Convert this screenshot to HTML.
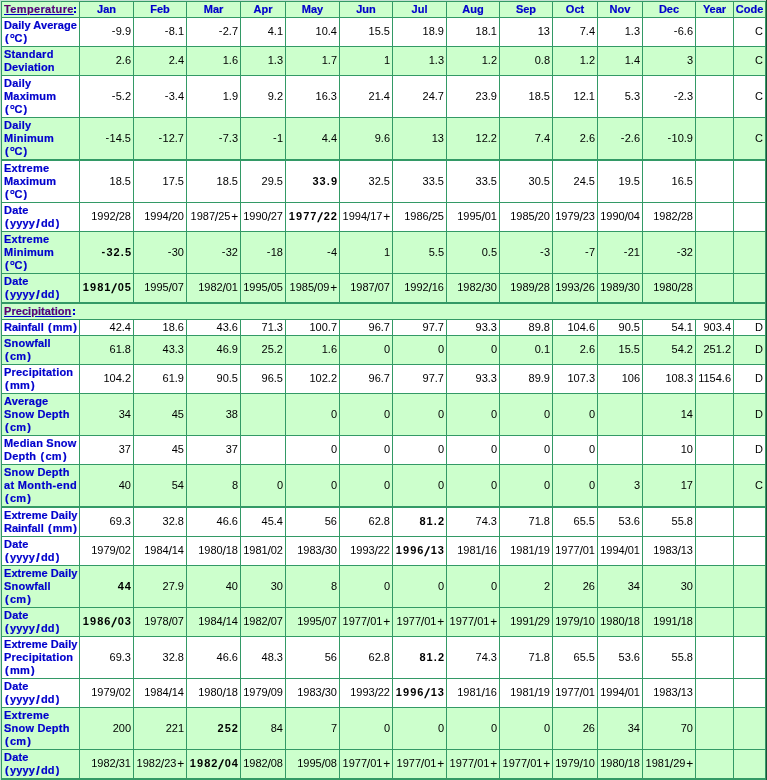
<!DOCTYPE html>
<html><head><meta charset="utf-8"><title>Climate Normals</title><style>
html,body{margin:0;padding:0;background:#fff;}
body{will-change:transform;width:767px;height:780px;overflow:hidden;position:relative;font-family:"Liberation Sans",sans-serif;font-size:11px;line-height:13px;color:#000;}
.a{position:absolute;}
.bg{position:absolute;left:1px;width:765px;}
.hl{position:absolute;left:1px;width:765px;}
.vl{position:absolute;width:1px;background:#339966;}
.t{position:absolute;white-space:nowrap;}
.lb{position:absolute;white-space:nowrap;font-weight:bold;color:#0000cc;-webkit-text-stroke:0.2px #0000cc;}
.hd{position:absolute;white-space:nowrap;font-weight:bold;color:#0000cc;text-align:center;-webkit-text-stroke:0.2px #0000cc;}
.d{position:absolute;white-space:nowrap;text-align:right;}
.b{font-weight:bold;letter-spacing:1.05px;margin-right:-1.05px;}
.b i{font-style:normal;margin:0 0.7px;font-size:13.5px;line-height:0;position:relative;top:1.5px;display:inline-block;transform:skewX(-14deg);}
.lk{color:#660066;text-decoration:underline;}
.p{padding:0 1.1px;}
.pl{padding-left:0.9px;margin-right:-0.3px;font-size:12px;line-height:0;position:relative;top:1px;}
.sl{font-style:normal;font-size:12.5px;line-height:0;position:relative;top:1px;margin:0 -0.2px;}
.mn{position:relative;top:-1px;padding-right:0.3px;}
.cl{padding-left:0.4px;font-size:12px;line-height:0;}
.o{font-size:13px;line-height:0;position:relative;top:1px;margin-right:-0.6px;}
.s{padding:0 1px;font-size:13.5px;line-height:0;position:relative;top:1px;}

</style></head><body>
<div class="a" style="left:0;top:0;width:766px;height:1px;background:#c4e0d2"></div>
<div class="a" style="left:0;top:0;width:1px;height:780px;background:#c4e0d2"></div>
<div class="a" style="left:766px;top:0;width:1px;height:780px;background:#1c5037"></div>
<div class="bg" style="top:2px;height:15px;background:#ccffcc"></div>
<div class="bg" style="top:18px;height:28px;background:#ffffff"></div>
<div class="bg" style="top:47px;height:28px;background:#ccffcc"></div>
<div class="bg" style="top:76px;height:41px;background:#ffffff"></div>
<div class="bg" style="top:118px;height:41px;background:#ccffcc"></div>
<div class="bg" style="top:161px;height:41px;background:#ffffff"></div>
<div class="bg" style="top:203px;height:28px;background:#ffffff"></div>
<div class="bg" style="top:232px;height:41px;background:#ccffcc"></div>
<div class="bg" style="top:274px;height:28px;background:#ccffcc"></div>
<div class="bg" style="top:304px;height:15px;background:#ccffcc"></div>
<div class="bg" style="top:320px;height:15px;background:#ffffff"></div>
<div class="bg" style="top:336px;height:28px;background:#ccffcc"></div>
<div class="bg" style="top:365px;height:28px;background:#ffffff"></div>
<div class="bg" style="top:394px;height:41px;background:#ccffcc"></div>
<div class="bg" style="top:436px;height:28px;background:#ffffff"></div>
<div class="bg" style="top:465px;height:41px;background:#ccffcc"></div>
<div class="bg" style="top:508px;height:28px;background:#ffffff"></div>
<div class="bg" style="top:537px;height:28px;background:#ffffff"></div>
<div class="bg" style="top:566px;height:41px;background:#ccffcc"></div>
<div class="bg" style="top:608px;height:28px;background:#ccffcc"></div>
<div class="bg" style="top:637px;height:41px;background:#ffffff"></div>
<div class="bg" style="top:679px;height:28px;background:#ffffff"></div>
<div class="bg" style="top:708px;height:41px;background:#ccffcc"></div>
<div class="bg" style="top:750px;height:28px;background:#ccffcc"></div>
<div class="hl" style="top:1px;height:1px;background:#339966"></div>
<div class="hl" style="top:17px;height:1px;background:#339966"></div>
<div class="hl" style="top:46px;height:1px;background:#339966"></div>
<div class="hl" style="top:75px;height:1px;background:#339966"></div>
<div class="hl" style="top:117px;height:1px;background:#339966"></div>
<div class="hl" style="top:159px;height:2px;background:#339966"></div>
<div class="hl" style="top:202px;height:1px;background:#339966"></div>
<div class="hl" style="top:231px;height:1px;background:#339966"></div>
<div class="hl" style="top:273px;height:1px;background:#339966"></div>
<div class="hl" style="top:302px;height:2px;background:#339966"></div>
<div class="hl" style="top:319px;height:1px;background:#339966"></div>
<div class="hl" style="top:335px;height:1px;background:#339966"></div>
<div class="hl" style="top:364px;height:1px;background:#339966"></div>
<div class="hl" style="top:393px;height:1px;background:#339966"></div>
<div class="hl" style="top:435px;height:1px;background:#339966"></div>
<div class="hl" style="top:464px;height:1px;background:#339966"></div>
<div class="hl" style="top:506px;height:2px;background:#339966"></div>
<div class="hl" style="top:536px;height:1px;background:#339966"></div>
<div class="hl" style="top:565px;height:1px;background:#339966"></div>
<div class="hl" style="top:607px;height:1px;background:#339966"></div>
<div class="hl" style="top:636px;height:1px;background:#339966"></div>
<div class="hl" style="top:678px;height:1px;background:#339966"></div>
<div class="hl" style="top:707px;height:1px;background:#339966"></div>
<div class="hl" style="top:749px;height:1px;background:#339966"></div>
<div class="hl" style="top:778px;height:2px;background:#339966"></div>
<div class="vl" style="left:1px;top:2px;height:15px"></div>
<div class="vl" style="left:79px;top:2px;height:15px"></div>
<div class="vl" style="left:133px;top:2px;height:15px"></div>
<div class="vl" style="left:186px;top:2px;height:15px"></div>
<div class="vl" style="left:240px;top:2px;height:15px"></div>
<div class="vl" style="left:285px;top:2px;height:15px"></div>
<div class="vl" style="left:339px;top:2px;height:15px"></div>
<div class="vl" style="left:392px;top:2px;height:15px"></div>
<div class="vl" style="left:446px;top:2px;height:15px"></div>
<div class="vl" style="left:499px;top:2px;height:15px"></div>
<div class="vl" style="left:552px;top:2px;height:15px"></div>
<div class="vl" style="left:597px;top:2px;height:15px"></div>
<div class="vl" style="left:642px;top:2px;height:15px"></div>
<div class="vl" style="left:695px;top:2px;height:15px"></div>
<div class="vl" style="left:733px;top:2px;height:15px"></div>
<div class="vl" style="left:765px;top:2px;height:15px"></div>
<div class="vl" style="left:1px;top:18px;height:28px"></div>
<div class="vl" style="left:79px;top:18px;height:28px"></div>
<div class="vl" style="left:133px;top:18px;height:28px"></div>
<div class="vl" style="left:186px;top:18px;height:28px"></div>
<div class="vl" style="left:240px;top:18px;height:28px"></div>
<div class="vl" style="left:285px;top:18px;height:28px"></div>
<div class="vl" style="left:339px;top:18px;height:28px"></div>
<div class="vl" style="left:392px;top:18px;height:28px"></div>
<div class="vl" style="left:446px;top:18px;height:28px"></div>
<div class="vl" style="left:499px;top:18px;height:28px"></div>
<div class="vl" style="left:552px;top:18px;height:28px"></div>
<div class="vl" style="left:597px;top:18px;height:28px"></div>
<div class="vl" style="left:642px;top:18px;height:28px"></div>
<div class="vl" style="left:695px;top:18px;height:28px"></div>
<div class="vl" style="left:733px;top:18px;height:28px"></div>
<div class="vl" style="left:765px;top:18px;height:28px"></div>
<div class="vl" style="left:1px;top:47px;height:28px"></div>
<div class="vl" style="left:79px;top:47px;height:28px"></div>
<div class="vl" style="left:133px;top:47px;height:28px"></div>
<div class="vl" style="left:186px;top:47px;height:28px"></div>
<div class="vl" style="left:240px;top:47px;height:28px"></div>
<div class="vl" style="left:285px;top:47px;height:28px"></div>
<div class="vl" style="left:339px;top:47px;height:28px"></div>
<div class="vl" style="left:392px;top:47px;height:28px"></div>
<div class="vl" style="left:446px;top:47px;height:28px"></div>
<div class="vl" style="left:499px;top:47px;height:28px"></div>
<div class="vl" style="left:552px;top:47px;height:28px"></div>
<div class="vl" style="left:597px;top:47px;height:28px"></div>
<div class="vl" style="left:642px;top:47px;height:28px"></div>
<div class="vl" style="left:695px;top:47px;height:28px"></div>
<div class="vl" style="left:733px;top:47px;height:28px"></div>
<div class="vl" style="left:765px;top:47px;height:28px"></div>
<div class="vl" style="left:1px;top:76px;height:41px"></div>
<div class="vl" style="left:79px;top:76px;height:41px"></div>
<div class="vl" style="left:133px;top:76px;height:41px"></div>
<div class="vl" style="left:186px;top:76px;height:41px"></div>
<div class="vl" style="left:240px;top:76px;height:41px"></div>
<div class="vl" style="left:285px;top:76px;height:41px"></div>
<div class="vl" style="left:339px;top:76px;height:41px"></div>
<div class="vl" style="left:392px;top:76px;height:41px"></div>
<div class="vl" style="left:446px;top:76px;height:41px"></div>
<div class="vl" style="left:499px;top:76px;height:41px"></div>
<div class="vl" style="left:552px;top:76px;height:41px"></div>
<div class="vl" style="left:597px;top:76px;height:41px"></div>
<div class="vl" style="left:642px;top:76px;height:41px"></div>
<div class="vl" style="left:695px;top:76px;height:41px"></div>
<div class="vl" style="left:733px;top:76px;height:41px"></div>
<div class="vl" style="left:765px;top:76px;height:41px"></div>
<div class="vl" style="left:1px;top:118px;height:41px"></div>
<div class="vl" style="left:79px;top:118px;height:41px"></div>
<div class="vl" style="left:133px;top:118px;height:41px"></div>
<div class="vl" style="left:186px;top:118px;height:41px"></div>
<div class="vl" style="left:240px;top:118px;height:41px"></div>
<div class="vl" style="left:285px;top:118px;height:41px"></div>
<div class="vl" style="left:339px;top:118px;height:41px"></div>
<div class="vl" style="left:392px;top:118px;height:41px"></div>
<div class="vl" style="left:446px;top:118px;height:41px"></div>
<div class="vl" style="left:499px;top:118px;height:41px"></div>
<div class="vl" style="left:552px;top:118px;height:41px"></div>
<div class="vl" style="left:597px;top:118px;height:41px"></div>
<div class="vl" style="left:642px;top:118px;height:41px"></div>
<div class="vl" style="left:695px;top:118px;height:41px"></div>
<div class="vl" style="left:733px;top:118px;height:41px"></div>
<div class="vl" style="left:765px;top:118px;height:41px"></div>
<div class="vl" style="left:1px;top:161px;height:41px"></div>
<div class="vl" style="left:79px;top:161px;height:41px"></div>
<div class="vl" style="left:133px;top:161px;height:41px"></div>
<div class="vl" style="left:186px;top:161px;height:41px"></div>
<div class="vl" style="left:240px;top:161px;height:41px"></div>
<div class="vl" style="left:285px;top:161px;height:41px"></div>
<div class="vl" style="left:339px;top:161px;height:41px"></div>
<div class="vl" style="left:392px;top:161px;height:41px"></div>
<div class="vl" style="left:446px;top:161px;height:41px"></div>
<div class="vl" style="left:499px;top:161px;height:41px"></div>
<div class="vl" style="left:552px;top:161px;height:41px"></div>
<div class="vl" style="left:597px;top:161px;height:41px"></div>
<div class="vl" style="left:642px;top:161px;height:41px"></div>
<div class="vl" style="left:695px;top:161px;height:41px"></div>
<div class="vl" style="left:733px;top:161px;height:41px"></div>
<div class="vl" style="left:765px;top:161px;height:41px"></div>
<div class="vl" style="left:1px;top:203px;height:28px"></div>
<div class="vl" style="left:79px;top:203px;height:28px"></div>
<div class="vl" style="left:133px;top:203px;height:28px"></div>
<div class="vl" style="left:186px;top:203px;height:28px"></div>
<div class="vl" style="left:240px;top:203px;height:28px"></div>
<div class="vl" style="left:285px;top:203px;height:28px"></div>
<div class="vl" style="left:339px;top:203px;height:28px"></div>
<div class="vl" style="left:392px;top:203px;height:28px"></div>
<div class="vl" style="left:446px;top:203px;height:28px"></div>
<div class="vl" style="left:499px;top:203px;height:28px"></div>
<div class="vl" style="left:552px;top:203px;height:28px"></div>
<div class="vl" style="left:597px;top:203px;height:28px"></div>
<div class="vl" style="left:642px;top:203px;height:28px"></div>
<div class="vl" style="left:695px;top:203px;height:28px"></div>
<div class="vl" style="left:733px;top:203px;height:28px"></div>
<div class="vl" style="left:765px;top:203px;height:28px"></div>
<div class="vl" style="left:1px;top:232px;height:41px"></div>
<div class="vl" style="left:79px;top:232px;height:41px"></div>
<div class="vl" style="left:133px;top:232px;height:41px"></div>
<div class="vl" style="left:186px;top:232px;height:41px"></div>
<div class="vl" style="left:240px;top:232px;height:41px"></div>
<div class="vl" style="left:285px;top:232px;height:41px"></div>
<div class="vl" style="left:339px;top:232px;height:41px"></div>
<div class="vl" style="left:392px;top:232px;height:41px"></div>
<div class="vl" style="left:446px;top:232px;height:41px"></div>
<div class="vl" style="left:499px;top:232px;height:41px"></div>
<div class="vl" style="left:552px;top:232px;height:41px"></div>
<div class="vl" style="left:597px;top:232px;height:41px"></div>
<div class="vl" style="left:642px;top:232px;height:41px"></div>
<div class="vl" style="left:695px;top:232px;height:41px"></div>
<div class="vl" style="left:733px;top:232px;height:41px"></div>
<div class="vl" style="left:765px;top:232px;height:41px"></div>
<div class="vl" style="left:1px;top:274px;height:28px"></div>
<div class="vl" style="left:79px;top:274px;height:28px"></div>
<div class="vl" style="left:133px;top:274px;height:28px"></div>
<div class="vl" style="left:186px;top:274px;height:28px"></div>
<div class="vl" style="left:240px;top:274px;height:28px"></div>
<div class="vl" style="left:285px;top:274px;height:28px"></div>
<div class="vl" style="left:339px;top:274px;height:28px"></div>
<div class="vl" style="left:392px;top:274px;height:28px"></div>
<div class="vl" style="left:446px;top:274px;height:28px"></div>
<div class="vl" style="left:499px;top:274px;height:28px"></div>
<div class="vl" style="left:552px;top:274px;height:28px"></div>
<div class="vl" style="left:597px;top:274px;height:28px"></div>
<div class="vl" style="left:642px;top:274px;height:28px"></div>
<div class="vl" style="left:695px;top:274px;height:28px"></div>
<div class="vl" style="left:733px;top:274px;height:28px"></div>
<div class="vl" style="left:765px;top:274px;height:28px"></div>
<div class="vl" style="left:1px;top:304px;height:15px"></div>
<div class="vl" style="left:765px;top:304px;height:15px"></div>
<div class="vl" style="left:1px;top:320px;height:15px"></div>
<div class="vl" style="left:79px;top:320px;height:15px"></div>
<div class="vl" style="left:133px;top:320px;height:15px"></div>
<div class="vl" style="left:186px;top:320px;height:15px"></div>
<div class="vl" style="left:240px;top:320px;height:15px"></div>
<div class="vl" style="left:285px;top:320px;height:15px"></div>
<div class="vl" style="left:339px;top:320px;height:15px"></div>
<div class="vl" style="left:392px;top:320px;height:15px"></div>
<div class="vl" style="left:446px;top:320px;height:15px"></div>
<div class="vl" style="left:499px;top:320px;height:15px"></div>
<div class="vl" style="left:552px;top:320px;height:15px"></div>
<div class="vl" style="left:597px;top:320px;height:15px"></div>
<div class="vl" style="left:642px;top:320px;height:15px"></div>
<div class="vl" style="left:695px;top:320px;height:15px"></div>
<div class="vl" style="left:733px;top:320px;height:15px"></div>
<div class="vl" style="left:765px;top:320px;height:15px"></div>
<div class="vl" style="left:1px;top:336px;height:28px"></div>
<div class="vl" style="left:79px;top:336px;height:28px"></div>
<div class="vl" style="left:133px;top:336px;height:28px"></div>
<div class="vl" style="left:186px;top:336px;height:28px"></div>
<div class="vl" style="left:240px;top:336px;height:28px"></div>
<div class="vl" style="left:285px;top:336px;height:28px"></div>
<div class="vl" style="left:339px;top:336px;height:28px"></div>
<div class="vl" style="left:392px;top:336px;height:28px"></div>
<div class="vl" style="left:446px;top:336px;height:28px"></div>
<div class="vl" style="left:499px;top:336px;height:28px"></div>
<div class="vl" style="left:552px;top:336px;height:28px"></div>
<div class="vl" style="left:597px;top:336px;height:28px"></div>
<div class="vl" style="left:642px;top:336px;height:28px"></div>
<div class="vl" style="left:695px;top:336px;height:28px"></div>
<div class="vl" style="left:733px;top:336px;height:28px"></div>
<div class="vl" style="left:765px;top:336px;height:28px"></div>
<div class="vl" style="left:1px;top:365px;height:28px"></div>
<div class="vl" style="left:79px;top:365px;height:28px"></div>
<div class="vl" style="left:133px;top:365px;height:28px"></div>
<div class="vl" style="left:186px;top:365px;height:28px"></div>
<div class="vl" style="left:240px;top:365px;height:28px"></div>
<div class="vl" style="left:285px;top:365px;height:28px"></div>
<div class="vl" style="left:339px;top:365px;height:28px"></div>
<div class="vl" style="left:392px;top:365px;height:28px"></div>
<div class="vl" style="left:446px;top:365px;height:28px"></div>
<div class="vl" style="left:499px;top:365px;height:28px"></div>
<div class="vl" style="left:552px;top:365px;height:28px"></div>
<div class="vl" style="left:597px;top:365px;height:28px"></div>
<div class="vl" style="left:642px;top:365px;height:28px"></div>
<div class="vl" style="left:695px;top:365px;height:28px"></div>
<div class="vl" style="left:733px;top:365px;height:28px"></div>
<div class="vl" style="left:765px;top:365px;height:28px"></div>
<div class="vl" style="left:1px;top:394px;height:41px"></div>
<div class="vl" style="left:79px;top:394px;height:41px"></div>
<div class="vl" style="left:133px;top:394px;height:41px"></div>
<div class="vl" style="left:186px;top:394px;height:41px"></div>
<div class="vl" style="left:240px;top:394px;height:41px"></div>
<div class="vl" style="left:285px;top:394px;height:41px"></div>
<div class="vl" style="left:339px;top:394px;height:41px"></div>
<div class="vl" style="left:392px;top:394px;height:41px"></div>
<div class="vl" style="left:446px;top:394px;height:41px"></div>
<div class="vl" style="left:499px;top:394px;height:41px"></div>
<div class="vl" style="left:552px;top:394px;height:41px"></div>
<div class="vl" style="left:597px;top:394px;height:41px"></div>
<div class="vl" style="left:642px;top:394px;height:41px"></div>
<div class="vl" style="left:695px;top:394px;height:41px"></div>
<div class="vl" style="left:733px;top:394px;height:41px"></div>
<div class="vl" style="left:765px;top:394px;height:41px"></div>
<div class="vl" style="left:1px;top:436px;height:28px"></div>
<div class="vl" style="left:79px;top:436px;height:28px"></div>
<div class="vl" style="left:133px;top:436px;height:28px"></div>
<div class="vl" style="left:186px;top:436px;height:28px"></div>
<div class="vl" style="left:240px;top:436px;height:28px"></div>
<div class="vl" style="left:285px;top:436px;height:28px"></div>
<div class="vl" style="left:339px;top:436px;height:28px"></div>
<div class="vl" style="left:392px;top:436px;height:28px"></div>
<div class="vl" style="left:446px;top:436px;height:28px"></div>
<div class="vl" style="left:499px;top:436px;height:28px"></div>
<div class="vl" style="left:552px;top:436px;height:28px"></div>
<div class="vl" style="left:597px;top:436px;height:28px"></div>
<div class="vl" style="left:642px;top:436px;height:28px"></div>
<div class="vl" style="left:695px;top:436px;height:28px"></div>
<div class="vl" style="left:733px;top:436px;height:28px"></div>
<div class="vl" style="left:765px;top:436px;height:28px"></div>
<div class="vl" style="left:1px;top:465px;height:41px"></div>
<div class="vl" style="left:79px;top:465px;height:41px"></div>
<div class="vl" style="left:133px;top:465px;height:41px"></div>
<div class="vl" style="left:186px;top:465px;height:41px"></div>
<div class="vl" style="left:240px;top:465px;height:41px"></div>
<div class="vl" style="left:285px;top:465px;height:41px"></div>
<div class="vl" style="left:339px;top:465px;height:41px"></div>
<div class="vl" style="left:392px;top:465px;height:41px"></div>
<div class="vl" style="left:446px;top:465px;height:41px"></div>
<div class="vl" style="left:499px;top:465px;height:41px"></div>
<div class="vl" style="left:552px;top:465px;height:41px"></div>
<div class="vl" style="left:597px;top:465px;height:41px"></div>
<div class="vl" style="left:642px;top:465px;height:41px"></div>
<div class="vl" style="left:695px;top:465px;height:41px"></div>
<div class="vl" style="left:733px;top:465px;height:41px"></div>
<div class="vl" style="left:765px;top:465px;height:41px"></div>
<div class="vl" style="left:1px;top:508px;height:28px"></div>
<div class="vl" style="left:79px;top:508px;height:28px"></div>
<div class="vl" style="left:133px;top:508px;height:28px"></div>
<div class="vl" style="left:186px;top:508px;height:28px"></div>
<div class="vl" style="left:240px;top:508px;height:28px"></div>
<div class="vl" style="left:285px;top:508px;height:28px"></div>
<div class="vl" style="left:339px;top:508px;height:28px"></div>
<div class="vl" style="left:392px;top:508px;height:28px"></div>
<div class="vl" style="left:446px;top:508px;height:28px"></div>
<div class="vl" style="left:499px;top:508px;height:28px"></div>
<div class="vl" style="left:552px;top:508px;height:28px"></div>
<div class="vl" style="left:597px;top:508px;height:28px"></div>
<div class="vl" style="left:642px;top:508px;height:28px"></div>
<div class="vl" style="left:695px;top:508px;height:28px"></div>
<div class="vl" style="left:733px;top:508px;height:28px"></div>
<div class="vl" style="left:765px;top:508px;height:28px"></div>
<div class="vl" style="left:1px;top:537px;height:28px"></div>
<div class="vl" style="left:79px;top:537px;height:28px"></div>
<div class="vl" style="left:133px;top:537px;height:28px"></div>
<div class="vl" style="left:186px;top:537px;height:28px"></div>
<div class="vl" style="left:240px;top:537px;height:28px"></div>
<div class="vl" style="left:285px;top:537px;height:28px"></div>
<div class="vl" style="left:339px;top:537px;height:28px"></div>
<div class="vl" style="left:392px;top:537px;height:28px"></div>
<div class="vl" style="left:446px;top:537px;height:28px"></div>
<div class="vl" style="left:499px;top:537px;height:28px"></div>
<div class="vl" style="left:552px;top:537px;height:28px"></div>
<div class="vl" style="left:597px;top:537px;height:28px"></div>
<div class="vl" style="left:642px;top:537px;height:28px"></div>
<div class="vl" style="left:695px;top:537px;height:28px"></div>
<div class="vl" style="left:733px;top:537px;height:28px"></div>
<div class="vl" style="left:765px;top:537px;height:28px"></div>
<div class="vl" style="left:1px;top:566px;height:41px"></div>
<div class="vl" style="left:79px;top:566px;height:41px"></div>
<div class="vl" style="left:133px;top:566px;height:41px"></div>
<div class="vl" style="left:186px;top:566px;height:41px"></div>
<div class="vl" style="left:240px;top:566px;height:41px"></div>
<div class="vl" style="left:285px;top:566px;height:41px"></div>
<div class="vl" style="left:339px;top:566px;height:41px"></div>
<div class="vl" style="left:392px;top:566px;height:41px"></div>
<div class="vl" style="left:446px;top:566px;height:41px"></div>
<div class="vl" style="left:499px;top:566px;height:41px"></div>
<div class="vl" style="left:552px;top:566px;height:41px"></div>
<div class="vl" style="left:597px;top:566px;height:41px"></div>
<div class="vl" style="left:642px;top:566px;height:41px"></div>
<div class="vl" style="left:695px;top:566px;height:41px"></div>
<div class="vl" style="left:733px;top:566px;height:41px"></div>
<div class="vl" style="left:765px;top:566px;height:41px"></div>
<div class="vl" style="left:1px;top:608px;height:28px"></div>
<div class="vl" style="left:79px;top:608px;height:28px"></div>
<div class="vl" style="left:133px;top:608px;height:28px"></div>
<div class="vl" style="left:186px;top:608px;height:28px"></div>
<div class="vl" style="left:240px;top:608px;height:28px"></div>
<div class="vl" style="left:285px;top:608px;height:28px"></div>
<div class="vl" style="left:339px;top:608px;height:28px"></div>
<div class="vl" style="left:392px;top:608px;height:28px"></div>
<div class="vl" style="left:446px;top:608px;height:28px"></div>
<div class="vl" style="left:499px;top:608px;height:28px"></div>
<div class="vl" style="left:552px;top:608px;height:28px"></div>
<div class="vl" style="left:597px;top:608px;height:28px"></div>
<div class="vl" style="left:642px;top:608px;height:28px"></div>
<div class="vl" style="left:695px;top:608px;height:28px"></div>
<div class="vl" style="left:733px;top:608px;height:28px"></div>
<div class="vl" style="left:765px;top:608px;height:28px"></div>
<div class="vl" style="left:1px;top:637px;height:41px"></div>
<div class="vl" style="left:79px;top:637px;height:41px"></div>
<div class="vl" style="left:133px;top:637px;height:41px"></div>
<div class="vl" style="left:186px;top:637px;height:41px"></div>
<div class="vl" style="left:240px;top:637px;height:41px"></div>
<div class="vl" style="left:285px;top:637px;height:41px"></div>
<div class="vl" style="left:339px;top:637px;height:41px"></div>
<div class="vl" style="left:392px;top:637px;height:41px"></div>
<div class="vl" style="left:446px;top:637px;height:41px"></div>
<div class="vl" style="left:499px;top:637px;height:41px"></div>
<div class="vl" style="left:552px;top:637px;height:41px"></div>
<div class="vl" style="left:597px;top:637px;height:41px"></div>
<div class="vl" style="left:642px;top:637px;height:41px"></div>
<div class="vl" style="left:695px;top:637px;height:41px"></div>
<div class="vl" style="left:733px;top:637px;height:41px"></div>
<div class="vl" style="left:765px;top:637px;height:41px"></div>
<div class="vl" style="left:1px;top:679px;height:28px"></div>
<div class="vl" style="left:79px;top:679px;height:28px"></div>
<div class="vl" style="left:133px;top:679px;height:28px"></div>
<div class="vl" style="left:186px;top:679px;height:28px"></div>
<div class="vl" style="left:240px;top:679px;height:28px"></div>
<div class="vl" style="left:285px;top:679px;height:28px"></div>
<div class="vl" style="left:339px;top:679px;height:28px"></div>
<div class="vl" style="left:392px;top:679px;height:28px"></div>
<div class="vl" style="left:446px;top:679px;height:28px"></div>
<div class="vl" style="left:499px;top:679px;height:28px"></div>
<div class="vl" style="left:552px;top:679px;height:28px"></div>
<div class="vl" style="left:597px;top:679px;height:28px"></div>
<div class="vl" style="left:642px;top:679px;height:28px"></div>
<div class="vl" style="left:695px;top:679px;height:28px"></div>
<div class="vl" style="left:733px;top:679px;height:28px"></div>
<div class="vl" style="left:765px;top:679px;height:28px"></div>
<div class="vl" style="left:1px;top:708px;height:41px"></div>
<div class="vl" style="left:79px;top:708px;height:41px"></div>
<div class="vl" style="left:133px;top:708px;height:41px"></div>
<div class="vl" style="left:186px;top:708px;height:41px"></div>
<div class="vl" style="left:240px;top:708px;height:41px"></div>
<div class="vl" style="left:285px;top:708px;height:41px"></div>
<div class="vl" style="left:339px;top:708px;height:41px"></div>
<div class="vl" style="left:392px;top:708px;height:41px"></div>
<div class="vl" style="left:446px;top:708px;height:41px"></div>
<div class="vl" style="left:499px;top:708px;height:41px"></div>
<div class="vl" style="left:552px;top:708px;height:41px"></div>
<div class="vl" style="left:597px;top:708px;height:41px"></div>
<div class="vl" style="left:642px;top:708px;height:41px"></div>
<div class="vl" style="left:695px;top:708px;height:41px"></div>
<div class="vl" style="left:733px;top:708px;height:41px"></div>
<div class="vl" style="left:765px;top:708px;height:41px"></div>
<div class="vl" style="left:1px;top:750px;height:28px"></div>
<div class="vl" style="left:79px;top:750px;height:28px"></div>
<div class="vl" style="left:133px;top:750px;height:28px"></div>
<div class="vl" style="left:186px;top:750px;height:28px"></div>
<div class="vl" style="left:240px;top:750px;height:28px"></div>
<div class="vl" style="left:285px;top:750px;height:28px"></div>
<div class="vl" style="left:339px;top:750px;height:28px"></div>
<div class="vl" style="left:392px;top:750px;height:28px"></div>
<div class="vl" style="left:446px;top:750px;height:28px"></div>
<div class="vl" style="left:499px;top:750px;height:28px"></div>
<div class="vl" style="left:552px;top:750px;height:28px"></div>
<div class="vl" style="left:597px;top:750px;height:28px"></div>
<div class="vl" style="left:642px;top:750px;height:28px"></div>
<div class="vl" style="left:695px;top:750px;height:28px"></div>
<div class="vl" style="left:733px;top:750px;height:28px"></div>
<div class="vl" style="left:765px;top:750px;height:28px"></div>
<div class="lb" style="left:4px;top:3px"><span class="lk" style="letter-spacing:0.36px">Temperature</span></div>
<div class="a" style="left:74px;top:7px;width:2px;height:2px;background:#0000cc"></div>
<div class="a" style="left:74px;top:11px;width:2px;height:2px;background:#0000cc"></div>
<div class="hd" style="left:80px;width:53px;top:3px">Jan</div>
<div class="hd" style="left:134px;width:52px;top:3px">Feb</div>
<div class="hd" style="left:187px;width:53px;top:3px">Mar</div>
<div class="hd" style="left:241px;width:44px;top:3px">Apr</div>
<div class="hd" style="left:286px;width:53px;top:3px">May</div>
<div class="hd" style="left:340px;width:52px;top:3px">Jun</div>
<div class="hd" style="left:393px;width:53px;top:3px">Jul</div>
<div class="hd" style="left:447px;width:52px;top:3px">Aug</div>
<div class="hd" style="left:500px;width:52px;top:3px">Sep</div>
<div class="hd" style="left:553px;width:44px;top:3px">Oct</div>
<div class="hd" style="left:598px;width:44px;top:3px">Nov</div>
<div class="hd" style="left:643px;width:52px;top:3px">Dec</div>
<div class="hd" style="left:696px;width:37px;top:3px">Year</div>
<div class="hd" style="left:734px;width:31px;top:3px">Code</div>
<div class="lb" style="left:4px;top:19px"><span style="letter-spacing:0.07px">Daily Average</span><br><span style="letter-spacing:0.0px"><span class="p">(</span><span class="o">°</span>C<span class="p">)</span></span></div>
<div class="d" style="right:636px;top:25px"><span class="mn">-</span>9.9</div>
<div class="d" style="right:583px;top:25px"><span class="mn">-</span>8.1</div>
<div class="d" style="right:529px;top:25px"><span class="mn">-</span>2.7</div>
<div class="d" style="right:484px;top:25px">4.1</div>
<div class="d" style="right:430px;top:25px">10.4</div>
<div class="d" style="right:377px;top:25px">15.5</div>
<div class="d" style="right:323px;top:25px">18.9</div>
<div class="d" style="right:270px;top:25px">18.1</div>
<div class="d" style="right:217px;top:25px">13</div>
<div class="d" style="right:172px;top:25px">7.4</div>
<div class="d" style="right:127px;top:25px">1.3</div>
<div class="d" style="right:74px;top:25px"><span class="mn">-</span>6.6</div>
<div class="d" style="right:4px;top:25px">C</div>
<div class="lb" style="left:4px;top:48px"><span style="letter-spacing:0.24px">Standard</span><br><span style="letter-spacing:0.13px">Deviation</span></div>
<div class="d" style="right:636px;top:54px">2.6</div>
<div class="d" style="right:583px;top:54px">2.4</div>
<div class="d" style="right:529px;top:54px">1.6</div>
<div class="d" style="right:484px;top:54px">1.3</div>
<div class="d" style="right:430px;top:54px">1.7</div>
<div class="d" style="right:377px;top:54px">1</div>
<div class="d" style="right:323px;top:54px">1.3</div>
<div class="d" style="right:270px;top:54px">1.2</div>
<div class="d" style="right:217px;top:54px">0.8</div>
<div class="d" style="right:172px;top:54px">1.2</div>
<div class="d" style="right:127px;top:54px">1.4</div>
<div class="d" style="right:74px;top:54px">3</div>
<div class="d" style="right:4px;top:54px">C</div>
<div class="lb" style="left:4px;top:77px"><span style="letter-spacing:0.2px">Daily</span><br><span style="letter-spacing:0.2px">Maximum</span><br><span style="letter-spacing:0.0px"><span class="p">(</span><span class="o">°</span>C<span class="p">)</span></span></div>
<div class="d" style="right:636px;top:90px"><span class="mn">-</span>5.2</div>
<div class="d" style="right:583px;top:90px"><span class="mn">-</span>3.4</div>
<div class="d" style="right:529px;top:90px">1.9</div>
<div class="d" style="right:484px;top:90px">9.2</div>
<div class="d" style="right:430px;top:90px">16.3</div>
<div class="d" style="right:377px;top:90px">21.4</div>
<div class="d" style="right:323px;top:90px">24.7</div>
<div class="d" style="right:270px;top:90px">23.9</div>
<div class="d" style="right:217px;top:90px">18.5</div>
<div class="d" style="right:172px;top:90px">12.1</div>
<div class="d" style="right:127px;top:90px">5.3</div>
<div class="d" style="right:74px;top:90px"><span class="mn">-</span>2.3</div>
<div class="d" style="right:4px;top:90px">C</div>
<div class="lb" style="left:4px;top:119px"><span style="letter-spacing:0.2px">Daily</span><br><span style="letter-spacing:0.24px">Minimum</span><br><span style="letter-spacing:0.0px"><span class="p">(</span><span class="o">°</span>C<span class="p">)</span></span></div>
<div class="d" style="right:636px;top:132px"><span class="mn">-</span>14.5</div>
<div class="d" style="right:583px;top:132px"><span class="mn">-</span>12.7</div>
<div class="d" style="right:529px;top:132px"><span class="mn">-</span>7.3</div>
<div class="d" style="right:484px;top:132px"><span class="mn">-</span>1</div>
<div class="d" style="right:430px;top:132px">4.4</div>
<div class="d" style="right:377px;top:132px">9.6</div>
<div class="d" style="right:323px;top:132px">13</div>
<div class="d" style="right:270px;top:132px">12.2</div>
<div class="d" style="right:217px;top:132px">7.4</div>
<div class="d" style="right:172px;top:132px">2.6</div>
<div class="d" style="right:127px;top:132px"><span class="mn">-</span>2.6</div>
<div class="d" style="right:74px;top:132px"><span class="mn">-</span>10.9</div>
<div class="d" style="right:4px;top:132px">C</div>
<div class="lb" style="left:4px;top:162px"><span style="letter-spacing:0.28px">Extreme</span><br><span style="letter-spacing:0.2px">Maximum</span><br><span style="letter-spacing:0.0px"><span class="p">(</span><span class="o">°</span>C<span class="p">)</span></span></div>
<div class="d" style="right:636px;top:175px">18.5</div>
<div class="d" style="right:583px;top:175px">17.5</div>
<div class="d" style="right:529px;top:175px">18.5</div>
<div class="d" style="right:484px;top:175px">29.5</div>
<div class="d b" style="right:430px;top:175px">33.9</div>
<div class="d" style="right:377px;top:175px">32.5</div>
<div class="d" style="right:323px;top:175px">33.5</div>
<div class="d" style="right:270px;top:175px">33.5</div>
<div class="d" style="right:217px;top:175px">30.5</div>
<div class="d" style="right:172px;top:175px">24.5</div>
<div class="d" style="right:127px;top:175px">19.5</div>
<div class="d" style="right:74px;top:175px">16.5</div>
<div class="lb" style="left:4px;top:204px"><span style="letter-spacing:0.2px">Date</span><br><span style="letter-spacing:0.15px"><span class="p">(</span>yyyy<span class="s">/</span>dd<span class="p">)</span></span></div>
<div class="d" style="right:636px;top:210px">1992<i class="sl">/</i>28</div>
<div class="d" style="right:583px;top:210px">1994<i class="sl">/</i>20</div>
<div class="d" style="right:529px;top:210px">1987<i class="sl">/</i>25<span class="pl">+</span></div>
<div class="d" style="right:484px;top:210px">1990<i class="sl">/</i>27</div>
<div class="d b" style="right:430px;top:210px">1977<i>/</i>22</div>
<div class="d" style="right:377px;top:210px">1994<i class="sl">/</i>17<span class="pl">+</span></div>
<div class="d" style="right:323px;top:210px">1986<i class="sl">/</i>25</div>
<div class="d" style="right:270px;top:210px">1995<i class="sl">/</i>01</div>
<div class="d" style="right:217px;top:210px">1985<i class="sl">/</i>20</div>
<div class="d" style="right:172px;top:210px">1979<i class="sl">/</i>23</div>
<div class="d" style="right:127px;top:210px">1990<i class="sl">/</i>04</div>
<div class="d" style="right:74px;top:210px">1982<i class="sl">/</i>28</div>
<div class="lb" style="left:4px;top:233px"><span style="letter-spacing:0.28px">Extreme</span><br><span style="letter-spacing:0.24px">Minimum</span><br><span style="letter-spacing:0.0px"><span class="p">(</span><span class="o">°</span>C<span class="p">)</span></span></div>
<div class="d b" style="right:636px;top:246px"><span class="mn">-</span>32.5</div>
<div class="d" style="right:583px;top:246px"><span class="mn">-</span>30</div>
<div class="d" style="right:529px;top:246px"><span class="mn">-</span>32</div>
<div class="d" style="right:484px;top:246px"><span class="mn">-</span>18</div>
<div class="d" style="right:430px;top:246px"><span class="mn">-</span>4</div>
<div class="d" style="right:377px;top:246px">1</div>
<div class="d" style="right:323px;top:246px">5.5</div>
<div class="d" style="right:270px;top:246px">0.5</div>
<div class="d" style="right:217px;top:246px"><span class="mn">-</span>3</div>
<div class="d" style="right:172px;top:246px"><span class="mn">-</span>7</div>
<div class="d" style="right:127px;top:246px"><span class="mn">-</span>21</div>
<div class="d" style="right:74px;top:246px"><span class="mn">-</span>32</div>
<div class="lb" style="left:4px;top:275px"><span style="letter-spacing:0.2px">Date</span><br><span style="letter-spacing:0.15px"><span class="p">(</span>yyyy<span class="s">/</span>dd<span class="p">)</span></span></div>
<div class="d b" style="right:636px;top:281px">1981<i>/</i>05</div>
<div class="d" style="right:583px;top:281px">1995<i class="sl">/</i>07</div>
<div class="d" style="right:529px;top:281px">1982<i class="sl">/</i>01</div>
<div class="d" style="right:484px;top:281px">1995<i class="sl">/</i>05</div>
<div class="d" style="right:430px;top:281px">1985<i class="sl">/</i>09<span class="pl">+</span></div>
<div class="d" style="right:377px;top:281px">1987<i class="sl">/</i>07</div>
<div class="d" style="right:323px;top:281px">1992<i class="sl">/</i>16</div>
<div class="d" style="right:270px;top:281px">1982<i class="sl">/</i>30</div>
<div class="d" style="right:217px;top:281px">1989<i class="sl">/</i>28</div>
<div class="d" style="right:172px;top:281px">1993<i class="sl">/</i>26</div>
<div class="d" style="right:127px;top:281px">1989<i class="sl">/</i>30</div>
<div class="d" style="right:74px;top:281px">1980<i class="sl">/</i>28</div>
<div class="lb" style="left:4px;top:305px"><span class="lk" style="letter-spacing:0.06px">Precipitation</span></div>
<div class="a" style="left:73px;top:309px;width:2px;height:2px;background:#0000cc"></div>
<div class="a" style="left:73px;top:313px;width:2px;height:2px;background:#0000cc"></div>
<div class="lb" style="left:4px;top:321px"><span style="letter-spacing:0.0px">Rainfall <span class="p">(</span>mm<span class="p">)</span></span></div>
<div class="d" style="right:636px;top:321px">42.4</div>
<div class="d" style="right:583px;top:321px">18.6</div>
<div class="d" style="right:529px;top:321px">43.6</div>
<div class="d" style="right:484px;top:321px">71.3</div>
<div class="d" style="right:430px;top:321px">100.7</div>
<div class="d" style="right:377px;top:321px">96.7</div>
<div class="d" style="right:323px;top:321px">97.7</div>
<div class="d" style="right:270px;top:321px">93.3</div>
<div class="d" style="right:217px;top:321px">89.8</div>
<div class="d" style="right:172px;top:321px">104.6</div>
<div class="d" style="right:127px;top:321px">90.5</div>
<div class="d" style="right:74px;top:321px">54.1</div>
<div class="d" style="right:36px;top:321px">903.4</div>
<div class="d" style="right:4px;top:321px">D</div>
<div class="lb" style="left:4px;top:337px"><span style="letter-spacing:0.2px">Snowfall</span><br><span style="letter-spacing:0.1px"><span class="p">(</span>cm<span class="p">)</span></span></div>
<div class="d" style="right:636px;top:343px">61.8</div>
<div class="d" style="right:583px;top:343px">43.3</div>
<div class="d" style="right:529px;top:343px">46.9</div>
<div class="d" style="right:484px;top:343px">25.2</div>
<div class="d" style="right:430px;top:343px">1.6</div>
<div class="d" style="right:377px;top:343px">0</div>
<div class="d" style="right:323px;top:343px">0</div>
<div class="d" style="right:270px;top:343px">0</div>
<div class="d" style="right:217px;top:343px">0.1</div>
<div class="d" style="right:172px;top:343px">2.6</div>
<div class="d" style="right:127px;top:343px">15.5</div>
<div class="d" style="right:74px;top:343px">54.2</div>
<div class="d" style="right:36px;top:343px">251.2</div>
<div class="d" style="right:4px;top:343px">D</div>
<div class="lb" style="left:4px;top:366px"><span style="letter-spacing:0.2px">Precipitation</span><br><span style="letter-spacing:0.15px"><span class="p">(</span>mm<span class="p">)</span></span></div>
<div class="d" style="right:636px;top:372px">104.2</div>
<div class="d" style="right:583px;top:372px">61.9</div>
<div class="d" style="right:529px;top:372px">90.5</div>
<div class="d" style="right:484px;top:372px">96.5</div>
<div class="d" style="right:430px;top:372px">102.2</div>
<div class="d" style="right:377px;top:372px">96.7</div>
<div class="d" style="right:323px;top:372px">97.7</div>
<div class="d" style="right:270px;top:372px">93.3</div>
<div class="d" style="right:217px;top:372px">89.9</div>
<div class="d" style="right:172px;top:372px">107.3</div>
<div class="d" style="right:127px;top:372px">106</div>
<div class="d" style="right:74px;top:372px">108.3</div>
<div class="d" style="right:36px;top:372px">1154.6</div>
<div class="d" style="right:4px;top:372px">D</div>
<div class="lb" style="left:4px;top:395px"><span style="letter-spacing:0.2px">Average</span><br><span style="letter-spacing:0.2px">Snow Depth</span><br><span style="letter-spacing:0.1px"><span class="p">(</span>cm<span class="p">)</span></span></div>
<div class="d" style="right:636px;top:408px">34</div>
<div class="d" style="right:583px;top:408px">45</div>
<div class="d" style="right:529px;top:408px">38</div>
<div class="d" style="right:430px;top:408px">0</div>
<div class="d" style="right:377px;top:408px">0</div>
<div class="d" style="right:323px;top:408px">0</div>
<div class="d" style="right:270px;top:408px">0</div>
<div class="d" style="right:217px;top:408px">0</div>
<div class="d" style="right:172px;top:408px">0</div>
<div class="d" style="right:74px;top:408px">14</div>
<div class="d" style="right:4px;top:408px">D</div>
<div class="lb" style="left:4px;top:437px"><span style="letter-spacing:0.2px">Median Snow</span><br><span style="letter-spacing:0.2px">Depth <span class="p">(</span>cm<span class="p">)</span></span></div>
<div class="d" style="right:636px;top:443px">37</div>
<div class="d" style="right:583px;top:443px">45</div>
<div class="d" style="right:529px;top:443px">37</div>
<div class="d" style="right:430px;top:443px">0</div>
<div class="d" style="right:377px;top:443px">0</div>
<div class="d" style="right:323px;top:443px">0</div>
<div class="d" style="right:270px;top:443px">0</div>
<div class="d" style="right:217px;top:443px">0</div>
<div class="d" style="right:172px;top:443px">0</div>
<div class="d" style="right:74px;top:443px">10</div>
<div class="d" style="right:4px;top:443px">D</div>
<div class="lb" style="left:4px;top:466px"><span style="letter-spacing:0.2px">Snow Depth</span><br><span style="letter-spacing:0.33px">at Month-end</span><br><span style="letter-spacing:0.1px"><span class="p">(</span>cm<span class="p">)</span></span></div>
<div class="d" style="right:636px;top:479px">40</div>
<div class="d" style="right:583px;top:479px">54</div>
<div class="d" style="right:529px;top:479px">8</div>
<div class="d" style="right:484px;top:479px">0</div>
<div class="d" style="right:430px;top:479px">0</div>
<div class="d" style="right:377px;top:479px">0</div>
<div class="d" style="right:323px;top:479px">0</div>
<div class="d" style="right:270px;top:479px">0</div>
<div class="d" style="right:217px;top:479px">0</div>
<div class="d" style="right:172px;top:479px">0</div>
<div class="d" style="right:127px;top:479px">3</div>
<div class="d" style="right:74px;top:479px">17</div>
<div class="d" style="right:4px;top:479px">C</div>
<div class="lb" style="left:4px;top:509px"><span style="letter-spacing:0.05px">Extreme Daily</span><br><span style="letter-spacing:0.0px">Rainfall <span class="p">(</span>mm<span class="p">)</span></span></div>
<div class="d" style="right:636px;top:515px">69.3</div>
<div class="d" style="right:583px;top:515px">32.8</div>
<div class="d" style="right:529px;top:515px">46.6</div>
<div class="d" style="right:484px;top:515px">45.4</div>
<div class="d" style="right:430px;top:515px">56</div>
<div class="d" style="right:377px;top:515px">62.8</div>
<div class="d b" style="right:323px;top:515px">81.2</div>
<div class="d" style="right:270px;top:515px">74.3</div>
<div class="d" style="right:217px;top:515px">71.8</div>
<div class="d" style="right:172px;top:515px">65.5</div>
<div class="d" style="right:127px;top:515px">53.6</div>
<div class="d" style="right:74px;top:515px">55.8</div>
<div class="lb" style="left:4px;top:538px"><span style="letter-spacing:0.2px">Date</span><br><span style="letter-spacing:0.15px"><span class="p">(</span>yyyy<span class="s">/</span>dd<span class="p">)</span></span></div>
<div class="d" style="right:636px;top:544px">1979<i class="sl">/</i>02</div>
<div class="d" style="right:583px;top:544px">1984<i class="sl">/</i>14</div>
<div class="d" style="right:529px;top:544px">1980<i class="sl">/</i>18</div>
<div class="d" style="right:484px;top:544px">1981<i class="sl">/</i>02</div>
<div class="d" style="right:430px;top:544px">1983<i class="sl">/</i>30</div>
<div class="d" style="right:377px;top:544px">1993<i class="sl">/</i>22</div>
<div class="d b" style="right:323px;top:544px">1996<i>/</i>13</div>
<div class="d" style="right:270px;top:544px">1981<i class="sl">/</i>16</div>
<div class="d" style="right:217px;top:544px">1981<i class="sl">/</i>19</div>
<div class="d" style="right:172px;top:544px">1977<i class="sl">/</i>01</div>
<div class="d" style="right:127px;top:544px">1994<i class="sl">/</i>01</div>
<div class="d" style="right:74px;top:544px">1983<i class="sl">/</i>13</div>
<div class="lb" style="left:4px;top:567px"><span style="letter-spacing:0.05px">Extreme Daily</span><br><span style="letter-spacing:0.2px">Snowfall</span><br><span style="letter-spacing:0.1px"><span class="p">(</span>cm<span class="p">)</span></span></div>
<div class="d b" style="right:636px;top:580px">44</div>
<div class="d" style="right:583px;top:580px">27.9</div>
<div class="d" style="right:529px;top:580px">40</div>
<div class="d" style="right:484px;top:580px">30</div>
<div class="d" style="right:430px;top:580px">8</div>
<div class="d" style="right:377px;top:580px">0</div>
<div class="d" style="right:323px;top:580px">0</div>
<div class="d" style="right:270px;top:580px">0</div>
<div class="d" style="right:217px;top:580px">2</div>
<div class="d" style="right:172px;top:580px">26</div>
<div class="d" style="right:127px;top:580px">34</div>
<div class="d" style="right:74px;top:580px">30</div>
<div class="lb" style="left:4px;top:609px"><span style="letter-spacing:0.2px">Date</span><br><span style="letter-spacing:0.15px"><span class="p">(</span>yyyy<span class="s">/</span>dd<span class="p">)</span></span></div>
<div class="d b" style="right:636px;top:615px">1986<i>/</i>03</div>
<div class="d" style="right:583px;top:615px">1978<i class="sl">/</i>07</div>
<div class="d" style="right:529px;top:615px">1984<i class="sl">/</i>14</div>
<div class="d" style="right:484px;top:615px">1982<i class="sl">/</i>07</div>
<div class="d" style="right:430px;top:615px">1995<i class="sl">/</i>07</div>
<div class="d" style="right:377px;top:615px">1977<i class="sl">/</i>01<span class="pl">+</span></div>
<div class="d" style="right:323px;top:615px">1977<i class="sl">/</i>01<span class="pl">+</span></div>
<div class="d" style="right:270px;top:615px">1977<i class="sl">/</i>01<span class="pl">+</span></div>
<div class="d" style="right:217px;top:615px">1991<i class="sl">/</i>29</div>
<div class="d" style="right:172px;top:615px">1979<i class="sl">/</i>10</div>
<div class="d" style="right:127px;top:615px">1980<i class="sl">/</i>18</div>
<div class="d" style="right:74px;top:615px">1991<i class="sl">/</i>18</div>
<div class="lb" style="left:4px;top:638px"><span style="letter-spacing:0.05px">Extreme Daily</span><br><span style="letter-spacing:0.2px">Precipitation</span><br><span style="letter-spacing:0.15px"><span class="p">(</span>mm<span class="p">)</span></span></div>
<div class="d" style="right:636px;top:651px">69.3</div>
<div class="d" style="right:583px;top:651px">32.8</div>
<div class="d" style="right:529px;top:651px">46.6</div>
<div class="d" style="right:484px;top:651px">48.3</div>
<div class="d" style="right:430px;top:651px">56</div>
<div class="d" style="right:377px;top:651px">62.8</div>
<div class="d b" style="right:323px;top:651px">81.2</div>
<div class="d" style="right:270px;top:651px">74.3</div>
<div class="d" style="right:217px;top:651px">71.8</div>
<div class="d" style="right:172px;top:651px">65.5</div>
<div class="d" style="right:127px;top:651px">53.6</div>
<div class="d" style="right:74px;top:651px">55.8</div>
<div class="lb" style="left:4px;top:680px"><span style="letter-spacing:0.2px">Date</span><br><span style="letter-spacing:0.15px"><span class="p">(</span>yyyy<span class="s">/</span>dd<span class="p">)</span></span></div>
<div class="d" style="right:636px;top:686px">1979<i class="sl">/</i>02</div>
<div class="d" style="right:583px;top:686px">1984<i class="sl">/</i>14</div>
<div class="d" style="right:529px;top:686px">1980<i class="sl">/</i>18</div>
<div class="d" style="right:484px;top:686px">1979<i class="sl">/</i>09</div>
<div class="d" style="right:430px;top:686px">1983<i class="sl">/</i>30</div>
<div class="d" style="right:377px;top:686px">1993<i class="sl">/</i>22</div>
<div class="d b" style="right:323px;top:686px">1996<i>/</i>13</div>
<div class="d" style="right:270px;top:686px">1981<i class="sl">/</i>16</div>
<div class="d" style="right:217px;top:686px">1981<i class="sl">/</i>19</div>
<div class="d" style="right:172px;top:686px">1977<i class="sl">/</i>01</div>
<div class="d" style="right:127px;top:686px">1994<i class="sl">/</i>01</div>
<div class="d" style="right:74px;top:686px">1983<i class="sl">/</i>13</div>
<div class="lb" style="left:4px;top:709px"><span style="letter-spacing:0.28px">Extreme</span><br><span style="letter-spacing:0.2px">Snow Depth</span><br><span style="letter-spacing:0.1px"><span class="p">(</span>cm<span class="p">)</span></span></div>
<div class="d" style="right:636px;top:722px">200</div>
<div class="d" style="right:583px;top:722px">221</div>
<div class="d b" style="right:529px;top:722px">252</div>
<div class="d" style="right:484px;top:722px">84</div>
<div class="d" style="right:430px;top:722px">7</div>
<div class="d" style="right:377px;top:722px">0</div>
<div class="d" style="right:323px;top:722px">0</div>
<div class="d" style="right:270px;top:722px">0</div>
<div class="d" style="right:217px;top:722px">0</div>
<div class="d" style="right:172px;top:722px">26</div>
<div class="d" style="right:127px;top:722px">34</div>
<div class="d" style="right:74px;top:722px">70</div>
<div class="lb" style="left:4px;top:751px"><span style="letter-spacing:0.2px">Date</span><br><span style="letter-spacing:0.15px"><span class="p">(</span>yyyy<span class="s">/</span>dd<span class="p">)</span></span></div>
<div class="d" style="right:636px;top:757px">1982<i class="sl">/</i>31</div>
<div class="d" style="right:583px;top:757px">1982<i class="sl">/</i>23<span class="pl">+</span></div>
<div class="d b" style="right:529px;top:757px">1982<i>/</i>04</div>
<div class="d" style="right:484px;top:757px">1982<i class="sl">/</i>08</div>
<div class="d" style="right:430px;top:757px">1995<i class="sl">/</i>08</div>
<div class="d" style="right:377px;top:757px">1977<i class="sl">/</i>01<span class="pl">+</span></div>
<div class="d" style="right:323px;top:757px">1977<i class="sl">/</i>01<span class="pl">+</span></div>
<div class="d" style="right:270px;top:757px">1977<i class="sl">/</i>01<span class="pl">+</span></div>
<div class="d" style="right:217px;top:757px">1977<i class="sl">/</i>01<span class="pl">+</span></div>
<div class="d" style="right:172px;top:757px">1979<i class="sl">/</i>10</div>
<div class="d" style="right:127px;top:757px">1980<i class="sl">/</i>18</div>
<div class="d" style="right:74px;top:757px">1981<i class="sl">/</i>29<span class="pl">+</span></div>
</body></html>
